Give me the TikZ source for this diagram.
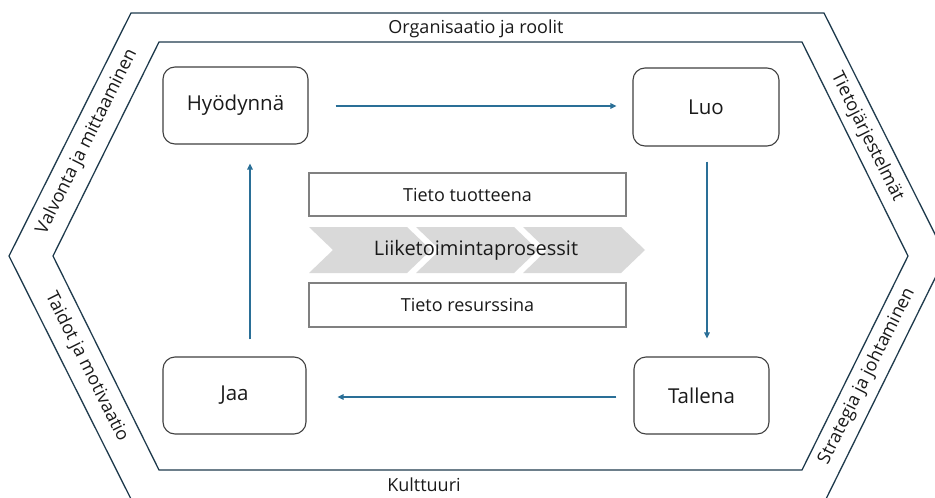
\documentclass[tikz,border=0pt]{standalone}
\usepackage{fontspec}
\setmainfont{Open Sans}
\usetikzlibrary{calc,arrows.meta}
\definecolor{hexc}{HTML}{1F3B4D}
\definecolor{arrc}{HTML}{2A6F97}
\definecolor{boxc}{HTML}{404040}
\definecolor{tbc}{HTML}{808080}
\definecolor{chev}{HTML}{D9D9D9}
\definecolor{txt}{HTML}{1A1A1A}
\tikzset{
  hexline/.style={draw=hexc, line width=1.3pt, line join=miter},
  stepbox/.style={draw=boxc, line width=1.1pt, rounded corners=12pt, text=txt,
    font=\fontsize{20.5}{24}\selectfont, minimum height=77pt},
  infobox/.style={draw=tbc, line width=1.2pt, text=txt, minimum width=317pt,
    font=\fontsize{18}{22}\selectfont},
  arr/.style={draw=arrc, line width=1.3pt, -{Triangle[length=6pt,width=5.5pt]}},
  sidelabel/.style={text=txt, font=\fontsize{18}{22}\selectfont, inner sep=0pt},
  chevshape/.style={fill=chev, draw=none}
}
\begin{document}
\begin{tikzpicture}[x=1pt,y=-1pt]
\useasboundingbox (0,0) rectangle (935,498);
\clip (0,0) rectangle (935,498);
\fill[white] (0,0) rectangle (935,498);
% hexagons
\draw[hexline] (131,13) -- (824,13) -- (946,256) -- (826,499) -- (131,499) -- (9,256) -- cycle;
\draw[hexline] (159,42) -- (802,42) -- (908,256) -- (802,470) -- (159,470) -- (53,256) -- cycle;
% perimeter labels
\node[sidelabel] (org) at (476,29) {Organisaatio ja roolit};
\node[sidelabel] (kul) at (424,485) {Kulttuuri};
\node[sidelabel, rotate=63.43] (val) at (87,142) {Valvonta ja mittaaminen};
\node[sidelabel, rotate=-63.43] (tjs) at (867,137) {Tietojärjestelmät};
\node[sidelabel, rotate=-63.43] (tai) at (86.5,367) {Taidot ja motivaatio};
\node[sidelabel, rotate=63.43] (str) at (867,376) {Strategia ja johtaminen};
% step boxes
\node[stepbox, minimum width=145pt] (hy) at (235.5,105.5) {Hyödynnä};
\node[stepbox, minimum width=146pt, minimum height=78pt] (luo) at (706,107) {Luo};
\node[stepbox, minimum width=143pt] (jaa) at (234.5,395.5) {Jaa};
\node[stepbox, minimum width=135pt] (tal) at (701.5,395.5) {Tallena};
% center
\node[infobox, minimum height=43pt] (tt) at (467.5,194.5) {Tieto tuotteena};
\node[infobox, minimum height=44pt] (tr) at (467.5,305) {Tieto resurssina};
\foreach \i in {0,1,2}{
  \pgfmathsetmacro{\xo}{309+107*\i}
  \fill[chevshape] (\xo,227) -- (\xo+98,227) -- (\xo+122,250) -- (\xo+98,273) -- (\xo,273) -- (\xo+24,250) -- cycle;
}
\node[text=txt, font=\fontsize{20}{24}\selectfont] (lp) at (476,250) {Liiketoimintaprosessit};
% arrows
\draw[arr] ($(hy.east)+(27,0.5)$) -- ($(hy.east -| luo.west)+(-16,0.5)$);
\draw[arr] ($(luo.south)+(1,15)$) -- ($(luo.south |- tal.north)+(1,-18)$);
\draw[arr] ($(tal.west)+(-17,1.5)$) -- ($(tal.west -| jaa.east)+(31,1.5)$);
\draw[arr] ($(jaa.north)+(15.5,-17)$) -- ($(hy.south)+(14.5,19)$);
\end{tikzpicture}
\end{document}
